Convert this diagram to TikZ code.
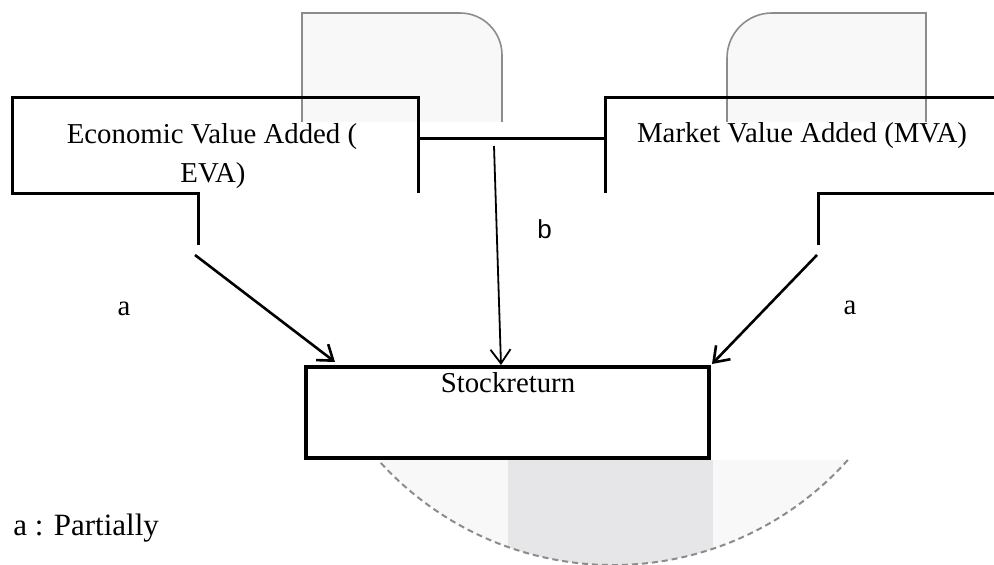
\documentclass[tikz,border=0pt]{standalone}
\usepackage{fontspec}
\setmainfont{Liberation Serif}
\newfontfamily\labfont{Liberation Sans}
\usetikzlibrary{arrows.meta}
\definecolor{ghostfill}{HTML}{F8F8F8}
\definecolor{ghostband}{HTML}{E6E6E8}
\definecolor{rim}{HTML}{8C8C8C}
\tikzset{
  frame/.style={line width=1.5pt},
  ghost/.style={fill=ghostfill,draw=rim,line width=0.8pt},
  arr/.style={line width=1.3pt,-{Straight Barb[length=7pt,width=10pt]}},
  txt/.style={anchor=base,inner sep=0pt},
}
\begin{document}
\begin{tikzpicture}[x=0.5pt,y=-0.5pt,font=\fontsize{14.4}{20}\selectfont]
\useasboundingbox (0,0) rectangle (994,565);
% shapes behind
\draw [ghost] (302,122) -- (302,13) -- (460,13) arc[start angle=-90,end angle=0,radius=42] -- (502,122);
\draw [ghost] (727,122) -- (727,58) arc[start angle=180,end angle=270,radius=45] -- (926,13) -- (926,122);
\begin{scope}
\clip (847.8,460) arc[start angle=41.8,end angle=138.2,radius=315] -- cycle;
\fill [ghostfill] (370,458) rectangle (860,570);
\fill [ghostband] (508,458) rectangle (713,570);
\end{scope}
\draw [rim,line width=1pt,densely dashed] (847.8,460) arc[start angle=41.8,end angle=138.2,radius=315];
% boxes
\draw [frame] (198,245) -- (198,194) -- (12,194) -- (12,98) -- (418,98) -- (418,193);
\draw [frame] (605,193) -- (605,98) -- (996,98);
\draw [frame] (996,194) -- (818,194) -- (818,245);
\node (eva1) at (212,144) [txt] {Economic Value Added (};
\node (eva2) at (213,183) [txt] {EVA)};
\node (mva) at (802,143) [txt] {Market Value Added (MVA)};
\node (stock) at (507.5,412.5) [draw,line width=2.25pt,outer sep=0pt,minimum width=201.5pt,minimum height=45.5pt] {};
\node (stocklbl) at (508,393) [txt] {Stockreturn};
% links
\coordinate (evaR) at (418,139);
\coordinate (mvaL) at (605,139);
\coordinate (evaFoot) at (195,255);
\coordinate (bFoot) at (494,146);
\coordinate (mvaFoot) at (817,255);
\draw [frame] (evaR) -- (mvaL);
\draw [arr] (evaFoot) -- ([xshift=14.5pt,yshift=2.5pt]stock.north west);
\draw [arr,line width=0.9pt] (bFoot) -- ([xshift=-3.25pt,yshift=1pt]stock.north);
\draw [arr] (mvaFoot) -- ([xshift=1.5pt,yshift=1.5pt]stock.north east);
% labels
\node (aEva) at (124,316) [txt] {a};
\node (aMva) at (850,315) [txt] {a};
\node (bLab) at (544.5,239) [txt,font=\labfont\fontsize{13}{15}\selectfont] {b};
\node (legend) at (13,535) [txt,anchor=base west,font=\fontsize{15.5}{18}\selectfont] {a : Partially};
\end{tikzpicture}
\end{document}
